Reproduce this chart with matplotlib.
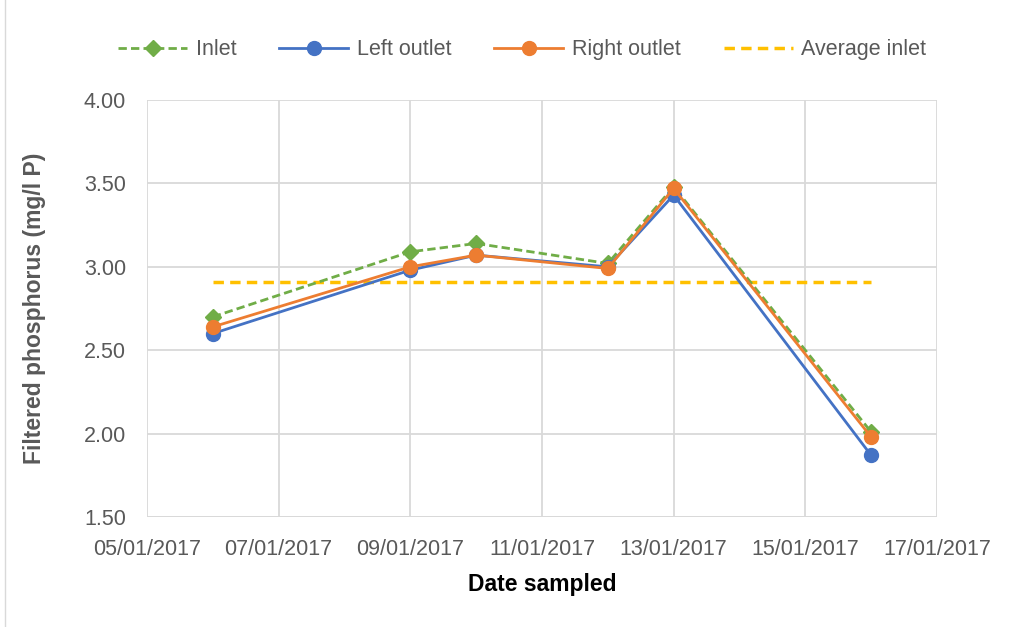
import matplotlib.pyplot as plt
import matplotlib.dates as mdates
import numpy as np
from datetime import datetime

dates = ["06/01/2017", "09/01/2017", "10/01/2017", "12/01/2017", "13/01/2017", "16/01/2017"]
inlet = [2.70, 3.09, 3.14, 3.02, 3.48, 2.01]
left_outlet = [2.60, 2.98, 3.07, 3.00, 3.43, 1.87]
right_outlet = [2.64, 3.00, 3.07, 2.99, 3.47, 1.98]
average_inlet = np.mean(inlet)

GREEN = "#70AD47"
BLUE = "#4472C4"
ORANGE = "#ED7D31"
GOLD = "#FFC000"
GRID = "#D9D9D9"
TEXT = "#595959"

plt.rcParams["font.family"] = ["Liberation Sans", "DejaVu Sans"]


def main():
    x = [datetime.strptime(d, "%d/%m/%Y") for d in dates]

    fig = plt.figure(figsize=(10.16, 6.27), dpi=100)
    ax = fig.add_axes([0.1447, 0.1754, 0.9222 - 0.1447, 0.8405 - 0.1754])

    ax.plot(x, inlet, color=GREEN, ls=(0, (3, 1.5)), lw=2, marker="D", ms=8,
            label="Inlet", zorder=3)
    ax.plot(x, left_outlet, color=BLUE, lw=2, marker="o", ms=10,
            label="Left outlet", zorder=4)
    ax.plot(x, right_outlet, color=ORANGE, lw=2, marker="o", ms=10,
            label="Right outlet", zorder=5)
    ax.plot([x[0], x[-1]], [average_inlet, average_inlet], color=GOLD, lw=2.5,
            ls=(0, (3, 1.8)), label="Average inlet", zorder=2)

    ax.set_xlim(datetime(2017, 1, 5), datetime(2017, 1, 17))
    ax.set_ylim(1.5, 4.0)
    ax.xaxis.set_major_locator(mdates.DayLocator(bymonthday=[5, 7, 9, 11, 13, 15, 17]))
    ax.xaxis.set_major_formatter(mdates.DateFormatter("%d/%m/%Y"))
    ax.set_yticks(np.arange(1.5, 4.01, 0.5))
    ax.yaxis.set_major_formatter(plt.FuncFormatter(lambda v, p: f"{v:.2f}"))

    ax.grid(True, color=GRID, lw=1.3)
    ax.set_axisbelow(True)
    for s in ax.spines.values():
        s.set_visible(False)
    ax.axhline(1.5, color=GRID, lw=1.3, zorder=1)
    ax.tick_params(length=0, labelsize=15.5, labelcolor=TEXT)
    ax.tick_params(axis="x", pad=16)
    ax.tick_params(axis="y", pad=15)

    ax.set_xlabel("Date sampled", fontsize=16.5, fontweight="bold", labelpad=9)
    ax.set_ylabel("Filtered phosphorus (mg/l P)", fontsize=16.5, fontweight="bold",
                  color=TEXT, labelpad=27)

    leg = ax.legend(loc="center", bbox_to_anchor=(0.475, 1.12), ncol=4, frameon=False,
                    fontsize=15.5, handlelength=3.2, columnspacing=2.0, handletextpad=0.4)
    for t in leg.get_texts():
        t.set_color(TEXT)

    # outer chart border on the left edge
    fig.add_artist(plt.Line2D([0.005, 0.005], [0, 1], color=GRID, lw=1))

    fig.savefig("out.png", dpi=100)


if __name__ == "__main__":
    main()
